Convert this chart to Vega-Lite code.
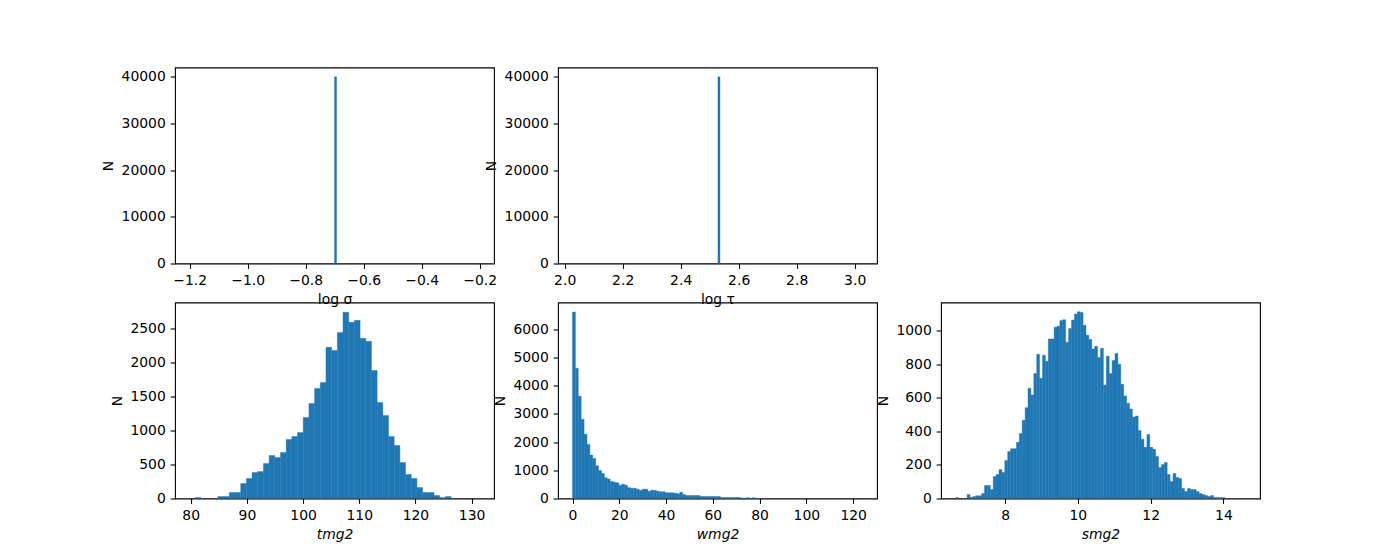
{
"$schema": "https://vega.github.io/schema/vega-lite/v6.json",
"padding": {"left": 101, "top": 66.5, "right": 0, "bottom": 0},
"background": "white",
"config": {
 "font": "DejaVu Sans",
 "view": {"stroke": "#000000", "strokeWidth": 1.1},
 "axis": {"grid": false, "domain": false, "ticks": true, "tickColor": "#000000", "tickSize": 4.86, "tickWidth": 1.1,
  "labelFont": "DejaVu Sans", "labelFontSize": 13.9, "labelColor": "#000000", "labelPadding": 4.86,
  "titleFont": "DejaVu Sans", "titleFontSize": 13.9, "titleFontWeight": "normal", "titleColor": "#000000", "titlePadding": 5.5},
 "bar": {"color": "#1f77b4", "stroke": "#1f77b4", "strokeWidth": 0.4}
},
"datasets": {
 "sig": [{"x0": -0.7005, "x1": -0.6935, "n": 40000}],
 "tau": [{"x0": 2.5285, "x1": 2.5355, "n": 40000}],
 "none": [],
 "t": [
  {"x0": 80.798, "x1": 81.810, "n": 15},
  {"x0": 84.847, "x1": 85.859, "n": 30},
  {"x0": 85.859, "x1": 86.871, "n": 30},
  {"x0": 86.871, "x1": 87.883, "n": 88},
  {"x0": 87.883, "x1": 88.895, "n": 88},
  {"x0": 88.895, "x1": 89.907, "n": 220},
  {"x0": 89.907, "x1": 90.919, "n": 294},
  {"x0": 90.919, "x1": 91.931, "n": 382},
  {"x0": 91.931, "x1": 92.943, "n": 397},
  {"x0": 92.943, "x1": 93.955, "n": 515},
  {"x0": 93.955, "x1": 94.968, "n": 632},
  {"x0": 94.968, "x1": 95.980, "n": 603},
  {"x0": 95.980, "x1": 96.992, "n": 676},
  {"x0": 96.992, "x1": 98.004, "n": 868},
  {"x0": 98.004, "x1": 99.016, "n": 912},
  {"x0": 99.016, "x1": 100.028, "n": 970},
  {"x0": 100.028, "x1": 101.040, "n": 1191},
  {"x0": 101.040, "x1": 102.052, "n": 1397},
  {"x0": 102.052, "x1": 103.064, "n": 1618},
  {"x0": 103.064, "x1": 104.076, "n": 1706},
  {"x0": 104.076, "x1": 105.089, "n": 2221},
  {"x0": 105.089, "x1": 106.101, "n": 2176},
  {"x0": 106.101, "x1": 107.113, "n": 2441},
  {"x0": 107.113, "x1": 108.125, "n": 2735},
  {"x0": 108.125, "x1": 109.137, "n": 2588},
  {"x0": 109.137, "x1": 110.149, "n": 2618},
  {"x0": 110.149, "x1": 111.161, "n": 2353},
  {"x0": 111.161, "x1": 112.173, "n": 2309},
  {"x0": 112.173, "x1": 113.185, "n": 1882},
  {"x0": 113.185, "x1": 114.197, "n": 1412},
  {"x0": 114.197, "x1": 115.210, "n": 1221},
  {"x0": 115.210, "x1": 116.222, "n": 912},
  {"x0": 116.222, "x1": 117.234, "n": 779},
  {"x0": 117.234, "x1": 118.246, "n": 529},
  {"x0": 118.246, "x1": 119.258, "n": 353},
  {"x0": 119.258, "x1": 120.270, "n": 294},
  {"x0": 120.270, "x1": 121.282, "n": 162},
  {"x0": 121.282, "x1": 122.294, "n": 88},
  {"x0": 122.294, "x1": 123.306, "n": 88},
  {"x0": 123.306, "x1": 124.318, "n": 44},
  {"x0": 124.318, "x1": 125.331, "n": 15},
  {"x0": 125.331, "x1": 126.343, "n": 29}
 ],
 "w": [
  {"x0": 0.00, "x1": 1.24, "n": 6618},
  {"x0": 1.24, "x1": 2.48, "n": 4626},
  {"x0": 2.48, "x1": 3.72, "n": 3629},
  {"x0": 3.72, "x1": 4.96, "n": 2811},
  {"x0": 4.96, "x1": 6.20, "n": 2277},
  {"x0": 6.20, "x1": 7.44, "n": 1921},
  {"x0": 7.44, "x1": 8.68, "n": 1542},
  {"x0": 8.68, "x1": 9.92, "n": 1423},
  {"x0": 9.92, "x1": 11.16, "n": 1162},
  {"x0": 11.16, "x1": 12.40, "n": 996},
  {"x0": 12.40, "x1": 13.64, "n": 890},
  {"x0": 13.64, "x1": 14.88, "n": 735},
  {"x0": 14.88, "x1": 16.12, "n": 688},
  {"x0": 16.12, "x1": 17.36, "n": 605},
  {"x0": 17.36, "x1": 18.60, "n": 581},
  {"x0": 18.60, "x1": 19.84, "n": 557},
  {"x0": 19.84, "x1": 21.08, "n": 474},
  {"x0": 21.08, "x1": 22.32, "n": 510},
  {"x0": 22.32, "x1": 23.56, "n": 474},
  {"x0": 23.56, "x1": 24.80, "n": 380},
  {"x0": 24.80, "x1": 26.04, "n": 368},
  {"x0": 26.04, "x1": 27.28, "n": 368},
  {"x0": 27.28, "x1": 28.52, "n": 332},
  {"x0": 28.52, "x1": 29.76, "n": 296},
  {"x0": 29.76, "x1": 31.00, "n": 332},
  {"x0": 31.00, "x1": 32.24, "n": 332},
  {"x0": 32.24, "x1": 33.48, "n": 261},
  {"x0": 33.48, "x1": 34.72, "n": 296},
  {"x0": 34.72, "x1": 35.96, "n": 285},
  {"x0": 35.96, "x1": 37.20, "n": 261},
  {"x0": 37.20, "x1": 38.44, "n": 237},
  {"x0": 38.44, "x1": 39.68, "n": 237},
  {"x0": 39.68, "x1": 40.92, "n": 202},
  {"x0": 40.92, "x1": 42.16, "n": 202},
  {"x0": 42.16, "x1": 43.40, "n": 202},
  {"x0": 43.40, "x1": 44.64, "n": 190},
  {"x0": 44.64, "x1": 45.88, "n": 166},
  {"x0": 45.88, "x1": 47.12, "n": 225},
  {"x0": 47.12, "x1": 48.36, "n": 142},
  {"x0": 48.36, "x1": 49.60, "n": 107},
  {"x0": 49.60, "x1": 50.84, "n": 107},
  {"x0": 50.84, "x1": 52.08, "n": 107},
  {"x0": 52.08, "x1": 53.32, "n": 107},
  {"x0": 53.32, "x1": 54.56, "n": 107},
  {"x0": 54.56, "x1": 55.80, "n": 71},
  {"x0": 55.80, "x1": 57.04, "n": 71},
  {"x0": 57.04, "x1": 58.28, "n": 71},
  {"x0": 58.28, "x1": 59.52, "n": 71},
  {"x0": 59.52, "x1": 60.76, "n": 71},
  {"x0": 60.76, "x1": 62.00, "n": 71},
  {"x0": 62.00, "x1": 63.24, "n": 71},
  {"x0": 63.24, "x1": 64.48, "n": 36},
  {"x0": 64.48, "x1": 65.72, "n": 36},
  {"x0": 65.72, "x1": 66.96, "n": 36},
  {"x0": 66.96, "x1": 68.20, "n": 36},
  {"x0": 68.20, "x1": 69.44, "n": 36},
  {"x0": 69.44, "x1": 70.68, "n": 36},
  {"x0": 70.68, "x1": 71.92, "n": 36},
  {"x0": 71.92, "x1": 73.16, "n": 15},
  {"x0": 73.16, "x1": 74.40, "n": 12},
  {"x0": 74.40, "x1": 75.64, "n": 30},
  {"x0": 75.64, "x1": 76.88, "n": 5},
  {"x0": 76.88, "x1": 78.12, "n": 30},
  {"x0": 78.12, "x1": 79.36, "n": 3},
  {"x0": 79.36, "x1": 80.60, "n": 3}
 ],
 "s": [
  {"x0": 6.6370, "x1": 6.7167, "n": 6},
  {"x0": 6.9558, "x1": 7.0355, "n": 24},
  {"x0": 7.0355, "x1": 7.1152, "n": 8},
  {"x0": 7.1152, "x1": 7.1949, "n": 12},
  {"x0": 7.1949, "x1": 7.2746, "n": 16},
  {"x0": 7.2746, "x1": 7.3543, "n": 16},
  {"x0": 7.3543, "x1": 7.4340, "n": 30},
  {"x0": 7.4340, "x1": 7.5137, "n": 78},
  {"x0": 7.5137, "x1": 7.5934, "n": 78},
  {"x0": 7.5934, "x1": 7.6731, "n": 54},
  {"x0": 7.6731, "x1": 7.7528, "n": 131},
  {"x0": 7.7528, "x1": 7.8325, "n": 143},
  {"x0": 7.8325, "x1": 7.9122, "n": 173},
  {"x0": 7.9122, "x1": 7.9919, "n": 155},
  {"x0": 7.9919, "x1": 8.0716, "n": 227},
  {"x0": 8.0716, "x1": 8.1513, "n": 281},
  {"x0": 8.1513, "x1": 8.2310, "n": 297},
  {"x0": 8.2310, "x1": 8.3107, "n": 297},
  {"x0": 8.3107, "x1": 8.3904, "n": 335},
  {"x0": 8.3904, "x1": 8.4701, "n": 388},
  {"x0": 8.4701, "x1": 8.5498, "n": 466},
  {"x0": 8.5498, "x1": 8.6295, "n": 542},
  {"x0": 8.6295, "x1": 8.7092, "n": 657},
  {"x0": 8.7092, "x1": 8.7889, "n": 617},
  {"x0": 8.7889, "x1": 8.8686, "n": 745},
  {"x0": 8.8686, "x1": 8.9483, "n": 861},
  {"x0": 8.9483, "x1": 9.0280, "n": 717},
  {"x0": 9.0280, "x1": 9.1077, "n": 855},
  {"x0": 9.1077, "x1": 9.1874, "n": 819},
  {"x0": 9.1874, "x1": 9.2671, "n": 952},
  {"x0": 9.2671, "x1": 9.3468, "n": 952},
  {"x0": 9.3468, "x1": 9.4265, "n": 1022},
  {"x0": 9.4265, "x1": 9.5062, "n": 1028},
  {"x0": 9.5062, "x1": 9.5859, "n": 1062},
  {"x0": 9.5859, "x1": 9.6656, "n": 1066},
  {"x0": 9.6656, "x1": 9.7453, "n": 932},
  {"x0": 9.7453, "x1": 9.8250, "n": 1014},
  {"x0": 9.8250, "x1": 9.9047, "n": 1064},
  {"x0": 9.9047, "x1": 9.9844, "n": 1100},
  {"x0": 9.9844, "x1": 10.0641, "n": 1114},
  {"x0": 10.0641, "x1": 10.1438, "n": 1110},
  {"x0": 10.1438, "x1": 10.2235, "n": 1034},
  {"x0": 10.2235, "x1": 10.3032, "n": 974},
  {"x0": 10.3032, "x1": 10.3829, "n": 948},
  {"x0": 10.3829, "x1": 10.4626, "n": 892},
  {"x0": 10.4626, "x1": 10.5423, "n": 908},
  {"x0": 10.5423, "x1": 10.6220, "n": 841},
  {"x0": 10.6220, "x1": 10.7017, "n": 896},
  {"x0": 10.7017, "x1": 10.7814, "n": 677},
  {"x0": 10.7814, "x1": 10.8611, "n": 849},
  {"x0": 10.8611, "x1": 10.9408, "n": 745},
  {"x0": 10.9408, "x1": 11.0205, "n": 823},
  {"x0": 11.0205, "x1": 11.1002, "n": 865},
  {"x0": 11.1002, "x1": 11.1799, "n": 801},
  {"x0": 11.1799, "x1": 11.2596, "n": 681},
  {"x0": 11.2596, "x1": 11.3393, "n": 612},
  {"x0": 11.3393, "x1": 11.4190, "n": 568},
  {"x0": 11.4190, "x1": 11.4987, "n": 534},
  {"x0": 11.4987, "x1": 11.5784, "n": 486},
  {"x0": 11.5784, "x1": 11.6581, "n": 492},
  {"x0": 11.6581, "x1": 11.7378, "n": 406},
  {"x0": 11.7378, "x1": 11.8175, "n": 353},
  {"x0": 11.8175, "x1": 11.8972, "n": 305},
  {"x0": 11.8972, "x1": 11.9769, "n": 382},
  {"x0": 11.9769, "x1": 12.0566, "n": 305},
  {"x0": 12.0566, "x1": 12.1363, "n": 293},
  {"x0": 12.1363, "x1": 12.2160, "n": 251},
  {"x0": 12.2160, "x1": 12.2957, "n": 185},
  {"x0": 12.2957, "x1": 12.3754, "n": 203},
  {"x0": 12.3754, "x1": 12.4551, "n": 215},
  {"x0": 12.4551, "x1": 12.5348, "n": 143},
  {"x0": 12.5348, "x1": 12.6145, "n": 102},
  {"x0": 12.6145, "x1": 12.6942, "n": 149},
  {"x0": 12.6942, "x1": 12.7739, "n": 125},
  {"x0": 12.7739, "x1": 12.8536, "n": 120},
  {"x0": 12.8536, "x1": 12.9333, "n": 60},
  {"x0": 12.9333, "x1": 13.0130, "n": 42},
  {"x0": 13.0130, "x1": 13.0927, "n": 60},
  {"x0": 13.0927, "x1": 13.1724, "n": 54},
  {"x0": 13.1724, "x1": 13.2521, "n": 54},
  {"x0": 13.2521, "x1": 13.3318, "n": 42},
  {"x0": 13.3318, "x1": 13.4115, "n": 30},
  {"x0": 13.4115, "x1": 13.4912, "n": 24},
  {"x0": 13.4912, "x1": 13.5709, "n": 18},
  {"x0": 13.5709, "x1": 13.6506, "n": 12},
  {"x0": 13.6506, "x1": 13.7303, "n": 18},
  {"x0": 13.7303, "x1": 13.8100, "n": 6},
  {"x0": 13.8100, "x1": 13.8897, "n": 6},
  {"x0": 13.8897, "x1": 13.9694, "n": 6},
  {"x0": 13.9694, "x1": 14.0491, "n": 6}
 ]
},
"columns": 3,
"spacing": {"row": 39, "column": 64},
"bounds": "flush",
"concat": [
 {
  "width": 319, "height": 196,
  "data": {"name": "sig"},
  "mark": {"type": "bar", "clip": true},
  "encoding": {
   "x": {"field": "x0", "type": "quantitative", "scale": {"domain": [-1.2506, -0.1506], "nice": false, "zero": false},
    "axis": {"values": [-1.2, -1.0, -0.8, -0.6, -0.4, -0.2], "format": ".1f", "title": "log σ"}},
   "x2": {"field": "x1"},
   "y": {"field": "n", "type": "quantitative", "scale": {"domain": [0, 42000], "nice": false},
    "axis": {"values": [0, 10000, 20000, 30000, 40000], "format": "d", "title": "N"}},
   "y2": {"datum": 0}
  }
 },
 {
  "width": 319, "height": 196,
  "data": {"name": "tau"},
  "mark": {"type": "bar", "clip": true},
  "encoding": {
   "x": {"field": "x0", "type": "quantitative", "scale": {"domain": [1.977, 3.077], "nice": false, "zero": false},
    "axis": {"values": [2.0, 2.2, 2.4, 2.6, 2.8, 3.0], "format": ".1f", "title": "log τ"}},
   "x2": {"field": "x1"},
   "y": {"field": "n", "type": "quantitative", "scale": {"domain": [0, 42000], "nice": false},
    "axis": {"values": [0, 10000, 20000, 30000, 40000], "format": "d", "title": "N"}},
   "y2": {"datum": 0}
  }
 },
 {
  "width": 319, "height": 196,
  "view": {"stroke": null},
  "data": {"name": "none"},
  "mark": {"type": "point", "opacity": 0},
  "encoding": {
   "x": {"field": "x0", "type": "quantitative", "axis": null},
   "y": {"field": "n", "type": "quantitative", "axis": null}
  }
 },
 {
  "width": 319, "height": 196,
  "data": {"name": "t"},
  "mark": {"type": "bar", "clip": true},
  "encoding": {
   "x": {"field": "x0", "type": "quantitative", "scale": {"domain": [77.205, 133.986], "nice": false, "zero": false},
    "axis": {"values": [80, 90, 100, 110, 120, 130], "format": "d", "title": "tmg2", "titleFontStyle": "italic"}},
   "x2": {"field": "x1"},
   "y": {"field": "n", "type": "quantitative", "scale": {"domain": [0, 2880], "nice": false},
    "axis": {"values": [0, 500, 1000, 1500, 2000, 2500], "format": "d", "title": "N"}},
   "y2": {"datum": 0}
  }
 },
 {
  "width": 319, "height": 196,
  "data": {"name": "w"},
  "mark": {"type": "bar", "clip": true},
  "encoding": {
   "x": {"field": "x0", "type": "quantitative", "scale": {"domain": [-6.2, 130.2], "nice": false, "zero": false},
    "axis": {"values": [0, 20, 40, 60, 80, 100, 120], "format": "d", "title": "wmg2", "titleFontStyle": "italic"}},
   "x2": {"field": "x1"},
   "y": {"field": "n", "type": "quantitative", "scale": {"domain": [0, 6957], "nice": false},
    "axis": {"values": [0, 1000, 2000, 3000, 4000, 5000, 6000], "format": "d", "title": "N"}},
   "y2": {"datum": 0}
  }
 },
 {
  "width": 319, "height": 196,
  "data": {"name": "s"},
  "mark": {"type": "bar", "clip": true},
  "encoding": {
   "x": {"field": "x0", "type": "quantitative", "scale": {"domain": [6.2385, 15.0055], "nice": false, "zero": false},
    "axis": {"values": [8, 10, 12, 14], "format": "d", "title": "smg2", "titleFontStyle": "italic"}},
   "x2": {"field": "x1"},
   "y": {"field": "n", "type": "quantitative", "scale": {"domain": [0, 1169], "nice": false},
    "axis": {"values": [0, 200, 400, 600, 800, 1000], "format": "d", "title": "N"}},
   "y2": {"datum": 0}
  }
 }
]
}
